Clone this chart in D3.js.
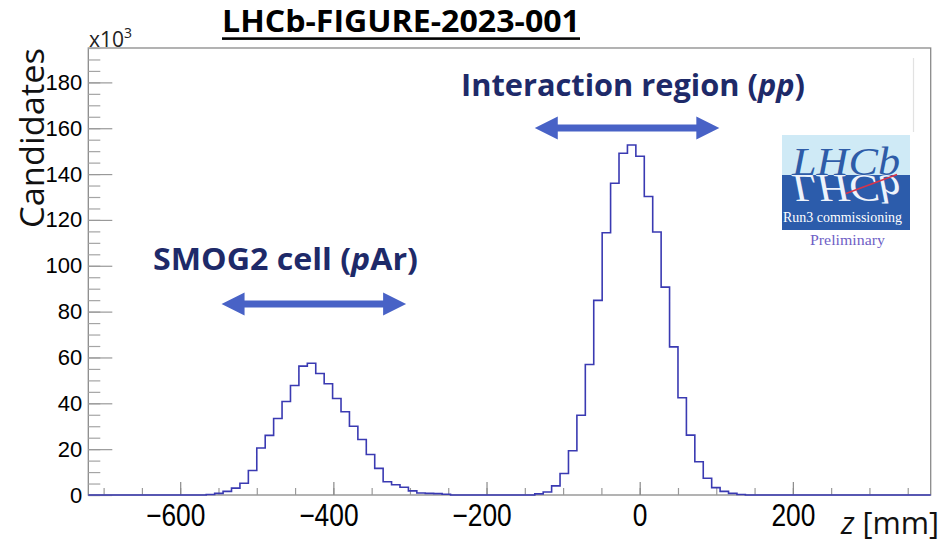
<!DOCTYPE html>
<html>
<head>
<meta charset="utf-8">
<script src="https://cdn.jsdelivr.net/npm/d3@7"></script>
<style>
  body { margin: 0; background: #fff; }
  svg { display: block; font-family: "Open Sans", "Noto Sans", sans-serif; }
</style>
</head>
<body>
<div id="chart"></div>
<script>
// z of reconstructed vertices, 100 bins from -720 to 380 mm, counts in units of 10^3
var zLow = -720;
var zHigh = 380;
var binWidth = 11;
var counts = [
  0, 0, 0, 0, 0, 0, 0, 0, 0, 0,
  0, 0, 0, 0, 0.2, 0.7, 1.6, 3.0, 5.1, 10.7,
  20.5, 26.0, 33.4, 40.8, 47.8, 56.2, 57.5, 53.0, 48.5, 42.1,
  36.3, 30.0, 24.2, 17.7, 11.6, 5.8, 4.5, 3.4, 1.8, 0.9,
  0.7, 0.6, 0.3, 0, 0, 0, 0, 0, 0, 0,
  0, 0, 0, 0.5, 1.3, 4.0, 9.4, 19.3, 34.8, 56.9,
  84.9, 114.4, 136.0, 149.1, 152.7, 147.8, 130.2, 114.7, 90.7, 64.6,
  42.4, 26.1, 14.5, 7.3, 3.2, 1.6, 0.7, 0.2, 0, 0,
  0, 0, 0, 0, 0, 0, 0, 0, 0, 0,
  0, 0, 0, 0, 0, 0, 0, 0, 0, 0
];

var xMajorTicks = [-600, -400, -200, 0, 200];
var xMinorTicks = d3.range(-700, 380, 50);
var yMajorTicks = [0, 20, 40, 60, 80, 100, 120, 140, 160, 180];
var yMinorTicks = d3.range(0, 196, 5);
var yMax = 195;

// regions marked with arrows (z in mm)
var regionNames = ["SMOG2 cell", "Interaction region"];
var regionBeams = ["pAr", "pp"];
var regionRanges = [[-546, -305], [-137, 104]];

//Define SVG area dimensions
var svgWidth = 946;
var svgHeight = 543;

var frame = { left: 88.3, right: 930.7, top: 48, bottom: 495 };

var svg = d3.select("#chart")
  .append("svg")
  .attr("width", svgWidth)
  .attr("height", svgHeight);

var x = d3.scaleLinear()
  .domain([zLow, zHigh])
  .range([frame.left, frame.right]);

var y = d3.scaleLinear()
  .domain([0, yMax])
  .range([frame.bottom, frame.top]);

var axisColor = "#8a8a8a";

// frame
svg.append("rect")
  .attr("x", frame.left)
  .attr("y", frame.top)
  .attr("width", frame.right - frame.left)
  .attr("height", frame.bottom - frame.top)
  .attr("fill", "none")
  .attr("stroke", axisColor)
  .attr("stroke-width", 1.3);

// faint leftover line from the original pasted image
svg.append("line")
  .attr("x1", 913.5).attr("x2", 913.5)
  .attr("y1", 58).attr("y2", 132)
  .attr("stroke", "#e2e2e2")
  .attr("stroke-width", 1.2);

// x axis minor ticks
svg.append("g")
  .attr("transform", `translate(0, ${frame.bottom})`)
  .call(d3.axisBottom(x).tickValues(xMinorTicks).tickSize(-7).tickFormat(""))
  .call(g => g.select(".domain").remove())
  .call(g => g.selectAll("line").attr("stroke", "#9a9a9a").attr("stroke-width", 1.2));

// x axis major ticks + labels
var xAxis = svg.append("g")
  .attr("transform", `translate(0, ${frame.bottom})`)
  .call(d3.axisBottom(x).tickValues(xMajorTicks).tickSize(-13).tickPadding(9).tickFormat(d3.format("d")))
  .call(g => g.select(".domain").remove());
xAxis.selectAll("line").attr("stroke", "#8a8a8a").attr("stroke-width", 1.2);
xAxis.selectAll("text")
  .attr("fill", "#000")
  .style("font-size", "31px")
  .attr("dy", "0.71em")
  .attr("transform", d => d < 0 ? "translate(-5,0) scale(0.85,1)" : "scale(0.85,1)");

// y axis minor ticks
svg.append("g")
  .attr("transform", `translate(${frame.left}, 0)`)
  .call(d3.axisLeft(y).tickValues(yMinorTicks).tickSize(-12).tickFormat(""))
  .call(g => g.select(".domain").remove())
  .call(g => g.selectAll("line").attr("stroke", "#a5a5a5").attr("stroke-width", 1.2));

// y axis major ticks + labels
var yAxis = svg.append("g")
  .attr("transform", `translate(${frame.left}, 0)`)
  .call(d3.axisLeft(y).tickValues(yMajorTicks).tickSize(-24).tickPadding(6).tickFormat(d3.format("d")))
  .call(g => g.select(".domain").remove());
yAxis.selectAll("line").attr("stroke", "#999").attr("stroke-width", 1.2);
yAxis.selectAll("text")
  .attr("fill", "#000")
  .style("font-size", "22px");

// histogram outline
var points = counts.map((c, i) => [zLow + i * binWidth, c]);
points.push([zLow + counts.length * binWidth, counts[counts.length - 1]]);

var histLine = d3.line()
  .x(d => x(d[0]))
  .y(d => y(d[1]))
  .curve(d3.curveStepAfter);

svg.append("path")
  .datum(points)
  .attr("d", histLine)
  .attr("fill", "none")
  .attr("stroke", "#3a3ab2")
  .attr("stroke-width", 1.6);

// x10^3 multiplier
var mult = svg.append("text")
  .attr("x", 89)
  .attr("y", 46.5)
  .style("font-size", "21px")
  .attr("fill", "#222")
  .text("x10");
mult.append("tspan")
  .attr("dy", -9)
  .style("font-size", "14px")
  .text("3");

// axis titles
svg.append("text")
  .attr("transform", "translate(44, 228) rotate(-90)")
  .attr("textLength", 180)
  .attr("lengthAdjust", "spacingAndGlyphs")
  .style("font-size", "33px")
  .attr("fill", "#111")
  .text("Candidates");

var zTitle = svg.append("text")
  .attr("x", 841)
  .attr("y", 534)
  .attr("textLength", 98)
  .attr("lengthAdjust", "spacingAndGlyphs")
  .style("font-size", "31px")
  .attr("fill", "#111");
zTitle.append("tspan").style("font-style", "italic").text("z");
zTitle.append("tspan").text(" [mm]");

// figure title
svg.append("text")
  .attr("x", 222)
  .attr("y", 32)
  .attr("textLength", 358)
  .attr("lengthAdjust", "spacingAndGlyphs")
  .style("font-size", "30px")
  .style("font-weight", "bold")
  .attr("fill", "#000")
  .text("LHCb-FIGURE-2023-001");
svg.append("rect")
  .attr("x", 222).attr("y", 37.3)
  .attr("width", 358).attr("height", 2.6)
  .attr("fill", "#000");

// region annotations
var labelColor = "#1e2a69";
var arrowColor = "#4862c6";
var labelPos = [{ x: 153, y: 270, w: 265 }, { x: 461, y: 96, w: 344 }];
var arrowY = [304, 128];

regionNames.forEach(function(name, i) {
  var t = svg.append("text")
    .attr("x", labelPos[i].x)
    .attr("y", labelPos[i].y)
    .attr("textLength", labelPos[i].w)
    .attr("lengthAdjust", "spacingAndGlyphs")
    .style("font-size", "30px")
    .style("font-weight", "bold")
    .attr("fill", labelColor);
  t.append("tspan").text(name + " (");
  var beam = regionBeams[i];
  if (beam === "pAr") {
    t.append("tspan").style("font-style", "italic").text("p");
    t.append("tspan").text("Ar)");
  } else {
    t.append("tspan").style("font-style", "italic").text("pp");
    t.append("tspan").text(")");
  }

  var x0 = x(regionRanges[i][0]);
  var x1 = x(regionRanges[i][1]);
  var yc = arrowY[i];
  var head = 23, halfH = 11.5, shaft = 3.5;
  svg.append("path")
    .attr("d", `M${x0},${yc} L${x0 + head},${yc - halfH} L${x0 + head},${yc - shaft}
      L${x1 - head},${yc - shaft} L${x1 - head},${yc - halfH} L${x1},${yc}
      L${x1 - head},${yc + halfH} L${x1 - head},${yc + shaft} L${x0 + head},${yc + shaft}
      L${x0 + head},${yc + halfH} Z`)
    .attr("fill", arrowColor);
});

// LHCb logo
var logo = svg.append("g");
logo.append("rect")
  .attr("x", 782).attr("y", 135).attr("width", 128).attr("height", 40)
  .attr("fill", "#cfeaf6");
logo.append("rect")
  .attr("x", 782).attr("y", 175).attr("width", 128).attr("height", 55)
  .attr("fill", "#2c5cab");
logo.append("text")
  .attr("x", 792).attr("y", 175)
  .attr("textLength", 108)
  .attr("lengthAdjust", "spacingAndGlyphs")
  .style("font-family", "'Liberation Serif', 'DejaVu Serif', serif")
  .style("font-style", "italic")
  .style("font-size", "40px")
  .attr("fill", "#2e5ca8")
  .text("LHCb");
logo.append("text")
  .attr("transform", "translate(0,350) scale(1,-1)")
  .attr("x", 792).attr("y", 175)
  .attr("textLength", 108)
  .attr("lengthAdjust", "spacingAndGlyphs")
  .style("font-family", "'Liberation Serif', 'DejaVu Serif', serif")
  .style("font-style", "italic")
  .style("font-size", "40px")
  .attr("fill", "#eef3fb")
  .text("LHCb");
logo.append("line")
  .attr("x1", 846).attr("y1", 193.5)
  .attr("x2", 897).attr("y2", 174.5)
  .attr("stroke", "#d8344a")
  .attr("stroke-width", 1.6);
logo.append("text")
  .attr("x", 783).attr("y", 222)
  .attr("textLength", 119)
  .attr("lengthAdjust", "spacingAndGlyphs")
  .style("font-family", "'Liberation Serif', 'DejaVu Serif', serif")
  .style("font-size", "15px")
  .attr("fill", "#fff")
  .text("Run3 commissioning");
logo.append("text")
  .attr("x", 810).attr("y", 245)
  .attr("textLength", 75)
  .attr("lengthAdjust", "spacingAndGlyphs")
  .style("font-family", "'Liberation Serif', 'DejaVu Serif', serif")
  .style("font-size", "15px")
  .attr("fill", "#6f5fc6")
  .text("Preliminary");
</script>
</body>
</html>
